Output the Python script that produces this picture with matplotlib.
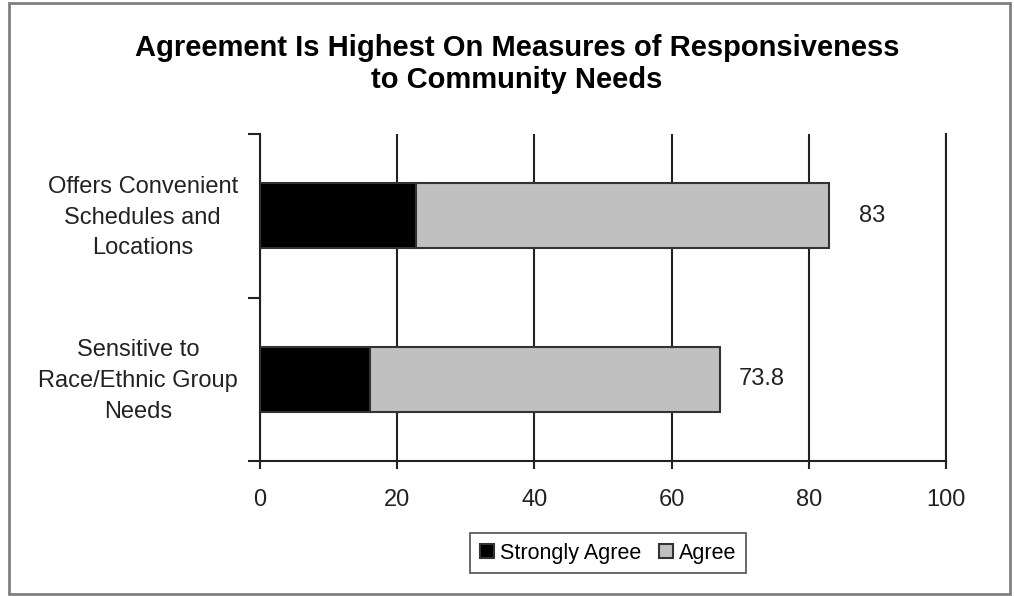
import matplotlib.pyplot as plt
from matplotlib.patches import Rectangle
from matplotlib.transforms import ScaledTranslation

categories = ["Offers Convenient\nSchedules and\nLocations",
              "Sensitive to\nRace/Ethnic Group\nNeeds"]
strongly_agree = [22.8, 16.1]
agree = [60.2, 51.0]
total_labels = ["83", "73.8"]
x_ticks = [0, 20, 40, 60, 80, 100]

plt.rcParams['font.family'] = ['Liberation Sans', 'DejaVu Sans']

fig = plt.figure(figsize=(10.14, 5.96), dpi=100)
ax = fig.add_axes([260/1014, 1-461/596, 686/1014, 327/596])

ypos = list(range(len(categories)))
ax.barh(ypos, strongly_agree, height=0.4, color='black', edgecolor='#333333',
        linewidth=1.5, label='Strongly Agree', zorder=3)
ax.barh(ypos, agree, left=strongly_agree, height=0.4, color='#c0c0c0',
        edgecolor='#333333', linewidth=1.5, label='Agree', zorder=3)

# value labels to the right of each bar
pads = [30, 18]
for i, lab in enumerate(total_labels):
    end = strongly_agree[i] + agree[i]
    ax.annotate(lab, (end, ypos[i]), xytext=(pads[i], 0), textcoords='offset pixels',
                ha='left', va='center', fontsize=17, color='#222222')

ax.set_xlim(0, 100)
ax.set_ylim(1.5, -0.5)
ax.set_xticks(x_ticks)
ax.set_xticklabels([str(t) for t in x_ticks], fontsize=17, color='#222222')
ax.tick_params(axis='x', length=6, width=1.5, direction='out', pad=14, color='#222222')

ax.set_yticks([-0.5, 0.5, 1.5])
ax.set_yticklabels([])
ax.tick_params(axis='y', which='major', length=9, width=1.5, color='#222222')
ax.set_yticks(ypos, minor=True)
ax.set_yticklabels(categories, minor=True, fontsize=17, color='#222222')
ax.tick_params(axis='y', which='minor', length=0, pad=16)
shift = ScaledTranslation(0, 5/100, fig.dpi_scale_trans)
for t in ax.get_yticklabels(minor=True):
    t.set_multialignment('center')
    t.set_linespacing(1.5)
    t.set_transform(t.get_transform() + shift)

ax.grid(axis='x', color='#222222', linewidth=1.5, zorder=0)
ax.set_axisbelow(True)
ax.spines['top'].set_visible(False)
for s in ['left', 'bottom', 'right']:
    ax.spines[s].set_linewidth(1.5)
    ax.spines[s].set_color('#222222')

fig.text(0.51, 0.893, "Agreement Is Highest On Measures of Responsiveness\nto Community Needs",
         ha='center', va='center', fontsize=21, fontweight='bold', linespacing=1.2)

leg = fig.legend(loc='center', bbox_to_anchor=(608/1014, 1-553/596), ncol=2,
                 fontsize=15.5, frameon=True, fancybox=False, edgecolor='#222222',
                 handlelength=0.65, handleheight=0.65, handletextpad=0.3,
                 columnspacing=0.8, borderpad=0.45)
leg.get_frame().set_linewidth(1.2)

fig.patches.append(Rectangle((9/1014, 2/596), 1001/1014, 591/596, transform=fig.transFigure,
                             fill=False, edgecolor='#808080', linewidth=2))

fig.savefig('out.png', dpi=100)
